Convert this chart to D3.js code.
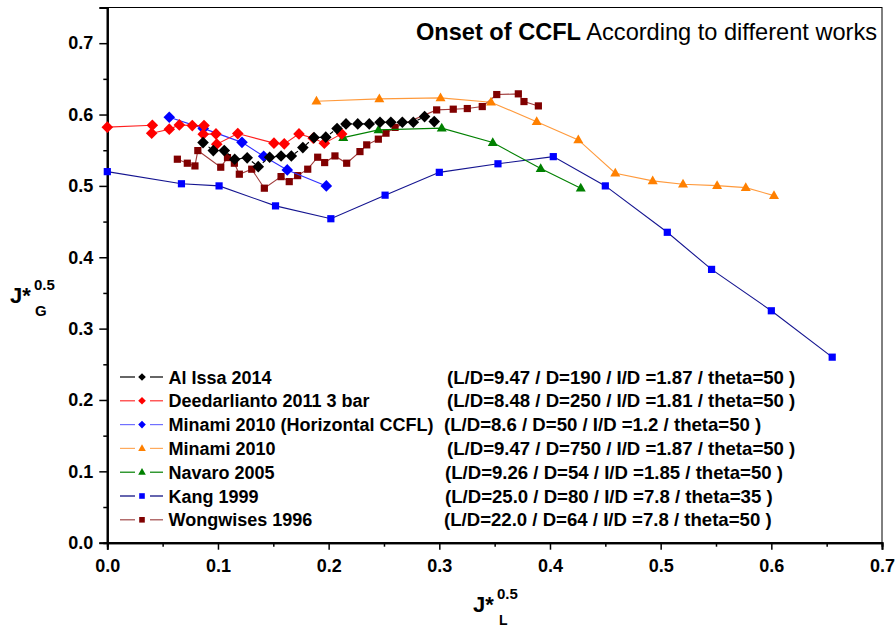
<!DOCTYPE html>
<html>
<head>
<meta charset="utf-8">
<script src="https://cdn.jsdelivr.net/npm/d3@7/dist/d3.min.js"></script>
<style>
  html, body { margin: 0; padding: 0; background: #fff; }
  svg { display: block; font-family: "Liberation Sans", Arial, sans-serif; }
</style>
</head>
<body>
<svg id="chart" width="896" height="627"></svg>
<script>
// Onset of counter-current flow limitation, J*G^0.5 vs J*L^0.5
const alIssa2014 = [
  [0.0865,0.5607],[0.0958,0.5495],[0.1057,0.5495],[0.1151,0.5374],[0.1264,0.5393],
  [0.1364,0.5270],[0.1467,0.5402],[0.1570,0.5420],[0.1663,0.5420],[0.1767,0.5537],
  [0.1868,0.5677],[0.1974,0.5683],[0.2076,0.5803],[0.2157,0.5869],[0.2263,0.5869],
  [0.2367,0.5869],[0.2464,0.5893],[0.2562,0.5893],[0.2666,0.5893],[0.2765,0.5893],
  [0.2867,0.5971],[0.2954,0.5901]
];
const deedarlianto2011 = [
  [0.0000,0.5823],[0.0407,0.5849],[0.0401,0.5737],[0.0560,0.5795],[0.0651,0.5855],
  [0.0768,0.5845],[0.0874,0.5845],[0.0867,0.5725],[0.0982,0.5729],[0.0989,0.5585],
  [0.1179,0.5733],[0.1506,0.5599],[0.1599,0.5589],[0.1732,0.5729],[0.1861,0.5669],
  [0.1961,0.5599],[0.2118,0.5729]
];
const minami2010H = [
  [0.0560,0.5963],[0.0867,0.5806],[0.1217,0.5610],[0.1413,0.5416],[0.1626,0.5224],[0.1979,0.5000]
];
const minami2010 = [
  [0.1890,0.6187],[0.2458,0.6219],[0.3011,0.6234],[0.3467,0.6173],[0.3880,0.5900],
  [0.4256,0.5645],[0.4590,0.5178],[0.4928,0.5070],[0.5202,0.5024],[0.5510,0.5004],
  [0.5769,0.4976],[0.6024,0.4864]
];
const navaro2005 = [
  [0.2132,0.5677],[0.2451,0.5785],[0.3022,0.5809],[0.3483,0.5607],[0.3916,0.5243],[0.4278,0.4968]
];
const kang1999 = [
  [0.000,0.520],[0.067,0.503],[0.101,0.500],[0.152,0.472],[0.202,0.454],[0.251,0.487],
  [0.300,0.519],[0.353,0.531],[0.403,0.541],[0.450,0.500],[0.506,0.435],[0.546,0.383],
  [0.600,0.325],[0.655,0.260]
];
const wongwises1996 = [
  [0.0633,0.5374],[0.0723,0.5318],[0.0792,0.5280],[0.0818,0.5495],[0.1025,0.5262],
  [0.1086,0.5397],[0.1148,0.5318],[0.1193,0.5164],[0.1305,0.5234],[0.1419,0.4968],
  [0.1570,0.5130],[0.1644,0.5060],[0.1720,0.5144],[0.1811,0.5234],[0.1901,0.5402],
  [0.1964,0.5327],[0.2057,0.5420],[0.2163,0.5318],[0.2283,0.5481],[0.2344,0.5575],
  [0.2449,0.5655],[0.2518,0.5739],[0.2600,0.5820],[0.2976,0.6065],[0.3126,0.6075],
  [0.3253,0.6084],[0.3388,0.6112],[0.3519,0.6280],[0.3714,0.6290],[0.3765,0.6182],
  [0.3895,0.6121]
];

const seriesNames = [
  "Al Issa 2014", "Deedarlianto 2011 3 bar", "Minami 2010 (Horizontal CCFL)",
  "Minami 2010", "Navaro 2005", "Kang 1999", "Wongwises 1996"
];
const seriesParams = [
  "(L/D=9.47 / D=190 / I/D =1.87 / theta=50 )",
  "(L/D=8.48 / D=250 / I/D =1.81 / theta=50 )",
  "(L/D=8.6 / D=50 / I/D =1.2 / theta=50 )",
  "(L/D=9.47 / D=750 / I/D =1.87 / theta=50 )",
  "(L/D=9.26 / D=54 / I/D =1.85 / theta=50 )",
  "(L/D=25.0 / D=80 / I/D =7.8 / theta=35 )",
  "(L/D=22.0 / D=64 / I/D =7.8 / theta=50 )"
];
const xTicks = [0, 0.1, 0.2, 0.3, 0.4, 0.5, 0.6, 0.7];
const yTicks = [0, 0.1, 0.2, 0.3, 0.4, 0.5, 0.6, 0.7];

const seriesData = [alIssa2014, deedarlianto2011, minami2010H, minami2010, navaro2005, kang1999, wongwises1996];
const styles = [
  { marker: "diamond",  fill: "#000000", line: "#000000", legendLine: "#000000", dash: "4,3", size: 5.8 },
  { marker: "diamond",  fill: "#ff0000", line: "#ff2020", legendLine: "#ff3030", dash: null, size: 5.8 },
  { marker: "diamond",  fill: "#0000ff", line: "#3030ff", legendLine: "#7070ff", dash: null, size: 5.8 },
  { marker: "triangle", fill: "#ff8000", line: "#ff9a3c", legendLine: "#ffaa5c", dash: null, size: 5 },
  { marker: "triangle", fill: "#008000", line: "#008000", legendLine: "#008000", dash: null, size: 5 },
  { marker: "square",   fill: "#0000ff", line: "#141490", legendLine: "#00007a", dash: null, size: 3.6 },
  { marker: "square",   fill: "#800000", line: "#a03a3a", legendLine: "#a04848", dash: null, size: 3.6 }
];
// draw order, bottom to top
const drawOrder = [5, 6, 3, 4, 2, 1, 0];

const svg = d3.select("#chart");
const plotLeft = 107.3, plotRight = 882, plotTop = 7.5, plotBottom = 542.7;

const x = d3.scaleLinear().domain([0, 0.7]).range([plotLeft, plotRight]);
const y = d3.scaleLinear().domain([0, 0.75]).range([plotBottom, plotTop]);

function markerPath(kind, r) {
  if (kind === "diamond") return `M0,${-r}L${r},0L0,${r}L${-r},0Z`;
  if (kind === "square") return `M${-r},${-r}H${r}V${r}H${-r}Z`;
  const h = r * 1.75;
  return `M0,${-h * 0.62}L${r},${h * 0.38}L${-r},${h * 0.38}Z`;
}

// frame
svg.append("rect")
  .attr("x", plotLeft).attr("y", plotTop)
  .attr("width", plotRight - plotLeft).attr("height", plotBottom - plotTop)
  .attr("fill", "none").attr("stroke", "#000").attr("stroke-width", 1);

// axes
const xAxis = d3.axisBottom(x).tickValues(xTicks).tickFormat(d3.format(".1f")).tickSize(7).tickPadding(10);
const xMinor = d3.axisBottom(x).tickValues(d3.range(0.05, 0.7, 0.1)).tickFormat("").tickSize(4);
const yAxis = d3.axisLeft(y).tickValues(yTicks).tickFormat(d3.format(".1f")).tickSize(8).tickPadding(6);
const yMinor = d3.axisLeft(y).tickValues(d3.range(0.05, 0.75, 0.1)).tickFormat("").tickSize(4);

function styleAxis(g) {
  g.select(".domain").attr("stroke", "#000").attr("stroke-width", 2);
  g.selectAll(".tick line").attr("stroke", "#000").attr("stroke-width", 1.5);
  g.selectAll(".tick text").attr("font-size", 18).attr("font-weight", "bold")
    .attr("font-family", "Liberation Sans, Arial, sans-serif").attr("fill", "#000");
}
svg.append("g").attr("transform", `translate(0,${plotBottom})`).call(xMinor).call(styleAxis);
svg.append("g").attr("transform", `translate(0,${plotBottom})`).call(xAxis).call(styleAxis);
svg.append("g").attr("transform", `translate(${plotLeft},0)`).call(yMinor).call(styleAxis);
svg.append("g").attr("transform", `translate(${plotLeft},0)`).call(yAxis).call(styleAxis);

// series
const line = d3.line().x(d => x(d[0])).y(d => y(d[1]));
drawOrder.forEach(i => {
  const s = styles[i];
  const g = svg.append("g");
  g.append("path").datum(seriesData[i])
    .attr("d", line).attr("fill", "none")
    .attr("stroke", s.line).attr("stroke-width", 1.1)
    .attr("stroke-dasharray", s.dash);
  g.selectAll("path.m").data(seriesData[i]).join("path")
    .attr("class", "m")
    .attr("transform", d => `translate(${x(d[0])},${y(d[1])})`)
    .attr("d", markerPath(s.marker, s.size))
    .attr("fill", s.fill);
});

// legend
const legendX = 120, legendY = 377, legendStep = 23.8;
const paramX = [447, 447, 444, 447, 445, 445, 444];
const lg = svg.append("g");
seriesNames.forEach((name, i) => {
  const s = styles[i];
  const yy = legendY + i * legendStep;
  lg.append("line").attr("x1", legendX).attr("x2", legendX + 15).attr("y1", yy).attr("y2", yy)
    .attr("stroke", s.legendLine).attr("stroke-width", 1.2);
  lg.append("line").attr("x1", legendX + 30).attr("x2", legendX + 43).attr("y1", yy).attr("y2", yy)
    .attr("stroke", s.legendLine).attr("stroke-width", 1.2);
  lg.append("path").attr("transform", `translate(${legendX + 22},${yy})`)
    .attr("d", markerPath(s.marker, s.marker === "square" ? 2.8 : 3.8))
    .attr("fill", s.fill);
  lg.append("text").attr("x", 168.5).attr("y", yy + 6.5)
    .attr("font-size", 18).attr("font-weight", "bold").text(name);
  lg.append("text").attr("x", paramX[i]).attr("y", yy + 6.5)
    .attr("font-size", 18.6).attr("font-weight", "bold").text(seriesParams[i]);
});

// title
const title = svg.append("text").attr("x", 877).attr("y", 40).attr("text-anchor", "end")
  .attr("font-size", 23.6);
title.append("tspan").attr("font-weight", "bold").text("Onset of CCFL");
title.append("tspan").text(" According to different works");

// axis titles
const yt = svg.append("g").attr("transform", "translate(10,303)");
yt.append("text").attr("font-size", 22).attr("font-weight", "bold").text("J*");
yt.append("text").attr("x", 24).attr("y", -13).attr("font-size", 15).attr("font-weight", "bold").text("0.5");
yt.append("text").attr("x", 25).attr("y", 13).attr("font-size", 15).attr("font-weight", "bold").text("G");

const xt = svg.append("g").attr("transform", "translate(473,612)");
xt.append("text").attr("font-size", 22).attr("font-weight", "bold").text("J*");
xt.append("text").attr("x", 24).attr("y", -13).attr("font-size", 15).attr("font-weight", "bold").text("0.5");
xt.append("text").attr("x", 26).attr("y", 13).attr("font-size", 14).attr("font-weight", "bold").text("L");
</script>
</body>
</html>
